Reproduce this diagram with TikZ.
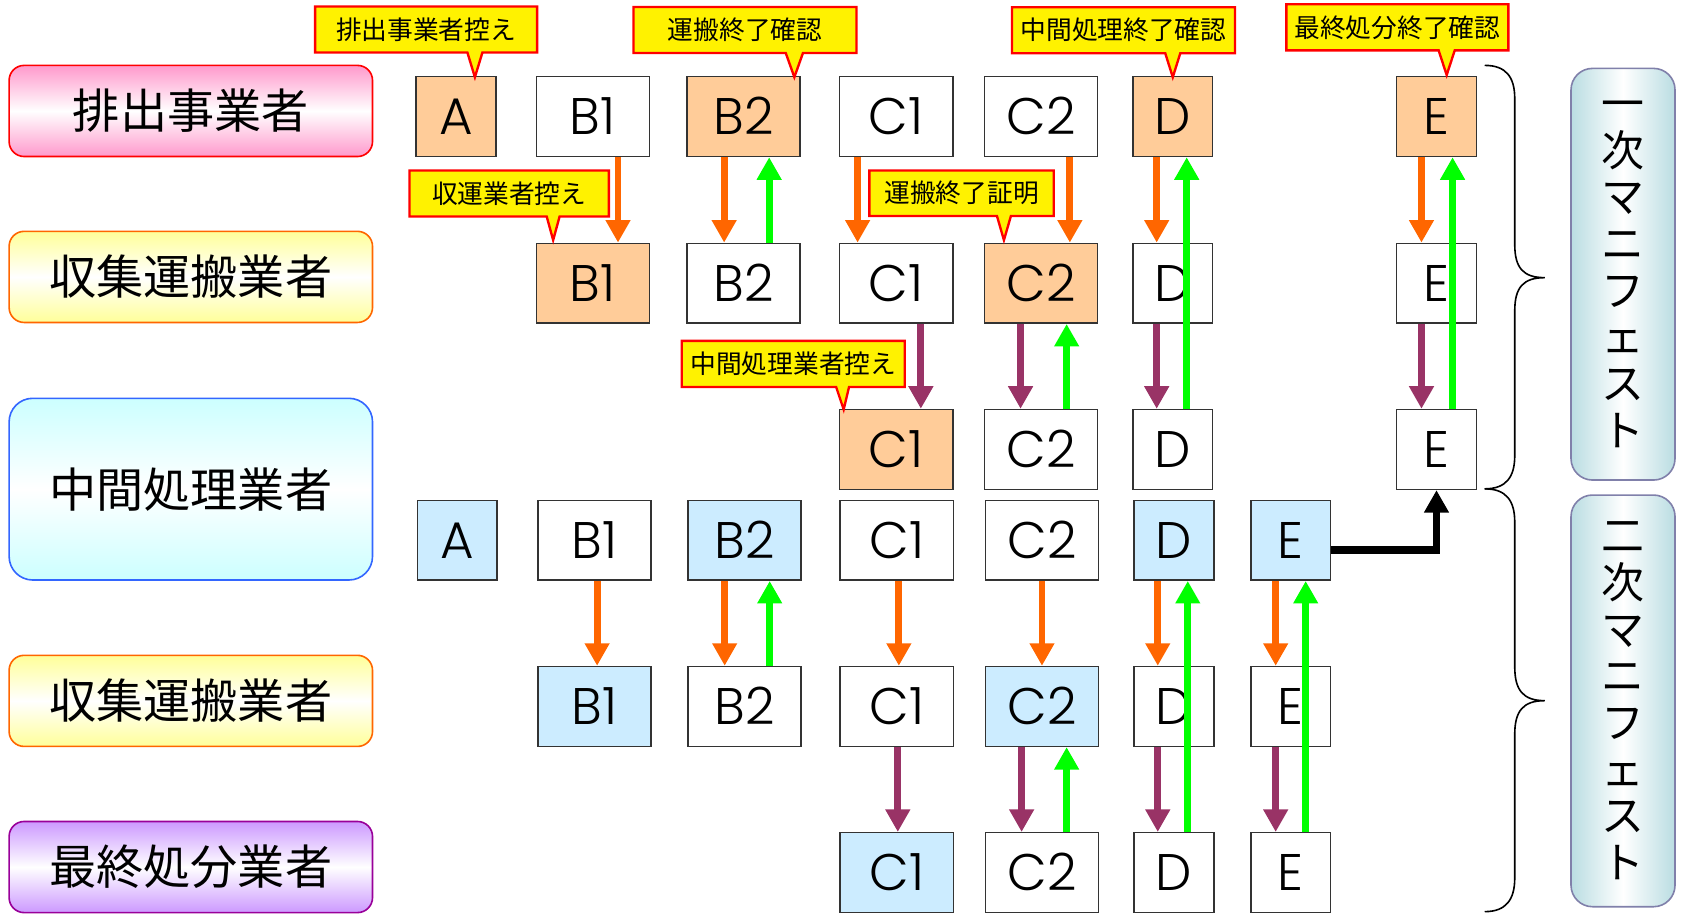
\documentclass[tikz,border=0pt]{standalone}
\usepackage{fontspec}
\newfontfamily\jp{Noto Sans CJK JP}
\newfontfamily\lat{Poppins}[UprightFont={* Light}]
\usetikzlibrary{arrows.meta}
\definecolor{boxor}{HTML}{FFCC99}
\definecolor{boxbl}{HTML}{CCECFF}
\definecolor{arror}{HTML}{FF6600}
\definecolor{arrgr}{HTML}{00FF00}
\definecolor{arrpu}{HTML}{993366}
\definecolor{pinkc}{HTML}{FF99CC}
\definecolor{yelc}{HTML}{FFFF99}
\definecolor{cyanc}{HTML}{CCFFFF}
\definecolor{purc}{HTML}{CC99FF}
\definecolor{tealc}{HTML}{BADDE2}
\definecolor{tealb}{HTML}{8080AA}
\definecolor{cyanb}{HTML}{3366FF}
\definecolor{purb}{HTML}{990099}
\newcommand\arrdn[4]{\draw[#1] ([xshift=#4pt]#2.south) -- ([xshift=#4pt]#3.north);}
\newcommand\arrup[3]{\draw[garr] ([xshift=#3pt]#1.north) -- ([xshift=#3pt]#2.south);}
\begin{document}
\begin{tikzpicture}[x=1pt,y=-1pt,
  lbox/.style={draw=black!80,line width=1.4pt,minimum height=74.5pt,inner sep=0pt,
     text height=33.6pt,text depth=0pt,font=\lat\fontsize{48}{48}\selectfont},
  wide/.style={lbox,minimum width=105.5pt},
  narrow/.style={lbox,minimum width=74.5pt},
  org/.style={fill=boxor},
  blu/.style={fill=boxbl},
  role/.style={rounded corners=14pt,line width=1.5pt,minimum width=339pt,minimum height=85pt,
     inner sep=0pt,text height=37pt,text depth=3.6pt,font=\jp\fontsize{44}{44}\selectfont},
  vlabel/.style={draw=tealb,line width=1.5pt,rounded corners=20pt,left color=tealc,right color=tealc,
     middle color=white,minimum width=97pt,inner sep=0pt,align=center,
     font=\jp\fontsize{40}{43.5}\selectfont},
  callout/.style={draw=red,line width=2.2pt,fill=yellow,line join=miter},
  ctext/.style={inner sep=0pt,font=\jp\fontsize{24}{24}\selectfont},
  oarr/.style={draw=arror,line width=6.5pt,-{Triangle[width=22pt,length=21pt]}},
  parr/.style={draw=arrpu,line width=6.5pt,-{Triangle[width=22pt,length=21pt]}},
  garr/.style={draw=arrgr,line width=6.5pt,-{Triangle[width=22pt,length=21pt]}},
  barr/.style={draw=black,line width=7pt,-{Triangle[width=22pt,length=21pt]}},
  brace/.style={draw=black,line width=1.5pt}
]
\useasboundingbox (0,0) rectangle (1568.1,854.5);
% role boxes
\node[role,draw=red,top color=pinkc,bottom color=pinkc,middle color=white] (r1) at (178,103.5) {排出事業者};
\node[role,draw=arror,top color=yelc,bottom color=yelc,middle color=white] (r2) at (178,258.3) {収集運搬業者};
\node[role,draw=cyanb,top color=cyanc,bottom color=cyanc,middle color=white,minimum height=169.5pt,rounded corners=22pt] (r3) at (178,456.3) {中間処理業者};
\node[role,draw=arror,top color=yelc,bottom color=yelc,middle color=white] (r4) at (178,653.8) {収集運搬業者};
\node[role,draw=purb,top color=purc,bottom color=purc,middle color=white] (r5) at (178,808.8) {最終処分業者};
% upper boxes
\node[narrow,org] (t1A) at (425.5,108.75) {A};
\node[wide] (t1B1) at (553,108.75) {B1};
\node[wide,org] (t1B2) at (693.5,108.75) {B2};
\node[wide] (t1C1) at (836,108.75) {C1};
\node[wide] (t1C2) at (971,108.75) {C2};
\node[narrow,org] (t1D) at (1094,108.75) {D};
\node[narrow,org] (t1E) at (1340,108.75) {E};
\node[wide,org] (t2B1) at (553,264.25) {B1};
\node[wide] (t2B2) at (693.5,264.25) {B2};
\node[wide] (t2C1) at (836,264.25) {C1};
\node[wide,org] (t2C2) at (971,264.25) {C2};
\node[narrow] (t2D) at (1094,264.25) {D};
\node[narrow] (t2E) at (1340,264.25) {E};
\node[wide,org] (t3C1) at (836,419.25) {C1};
\node[wide] (t3C2) at (971,419.25) {C2};
\node[narrow] (t3D) at (1094,419.25) {D};
\node[narrow] (t3E) at (1340,419.25) {E};
% lower boxes
\node[narrow,blu] (b4A) at (426.5,504) {A};
\node[wide] (b4B1) at (554.5,504) {B1};
\node[wide,blu] (b4B2) at (694.5,504) {B2};
\node[wide] (b4C1) at (836.5,504) {C1};
\node[wide] (b4C2) at (972,504) {C2};
\node[narrow,blu] (b4D) at (1095,504) {D};
\node[narrow,blu] (b4E) at (1204,504) {E};
\node[wide,blu] (b5B1) at (554.5,659) {B1};
\node[wide] (b5B2) at (694.5,659) {B2};
\node[wide] (b5C1) at (836.5,659) {C1};
\node[wide,blu] (b5C2) at (972,659) {C2};
\node[narrow] (b5D) at (1095,659) {D};
\node[narrow] (b5E) at (1204,659) {E};
\node[wide,blu] (b6C1) at (836.5,814) {C1};
\node[wide] (b6C2) at (972,814) {C2};
\node[narrow] (b6D) at (1095,814) {D};
\node[narrow] (b6E) at (1204,814) {E};
% upper arrows
\arrdn{oarr}{t1B1}{t2B1}{23.5}
\arrdn{oarr}{t1B2}{t2B2}{-18}
\arrup{t2B2}{t1B2}{24}
\arrdn{oarr}{t1C1}{t2C1}{-36}
\arrdn{oarr}{t1C2}{t2C2}{27}
\arrdn{oarr}{t1D}{t2D}{-15}
\arrdn{oarr}{t1E}{t2E}{-14}
\arrdn{parr}{t2C1}{t3C1}{23}
\arrdn{parr}{t2C2}{t3C2}{-19}
\arrup{t3C2}{t2C2}{24}
\arrdn{parr}{t2D}{t3D}{-15}
\arrdn{parr}{t2E}{t3E}{-14}
\arrup{t3D}{t1D}{13}
\arrup{t3E}{t1E}{15}
% lower arrows
\arrdn{oarr}{b4B1}{b5B1}{2.5}
\arrdn{oarr}{b4B2}{b5B2}{-18.5}
\arrup{b5B2}{b4B2}{23.5}
\arrdn{oarr}{b4C1}{b5C1}{2}
\arrdn{oarr}{b4C2}{b5C2}{0}
\arrdn{oarr}{b4D}{b5D}{-15}
\arrdn{oarr}{b4E}{b5E}{-14}
\arrdn{parr}{b5C1}{b6C1}{1}
\arrdn{parr}{b5C2}{b6C2}{-19}
\arrup{b6C2}{b5C2}{23}
\arrdn{parr}{b5D}{b6D}{-15}
\arrdn{parr}{b5E}{b6E}{-14}
\arrup{b6D}{b4D}{13}
\arrup{b6E}{b4E}{14}
% black connector
\draw[barr] ([yshift=-9pt]b4E.east) -| (t3E.south);
% callouts
\draw[callout] (294,6) -- (501,6) -- (501,49) -- (450,49) -- (443,72) -- (436,49) -- (294,49) -- cycle;
\node[ctext] (c1) at (397.5,27.5) {排出事業者控え};
\draw[callout] (591,6.5) -- (799,6.5) -- (799,49.5) -- (749,49.5) -- (741,72) -- (733,49.5) -- (591,49.5) -- cycle;
\node[ctext] (c2) at (695,28) {運搬終了確認};
\draw[callout] (944,6.8) -- (1152,6.8) -- (1152,49.7) -- (1101,49.7) -- (1094,72) -- (1087,49.7) -- (944,49.7) -- cycle;
\node[ctext] (c3) at (1048,28.2) {中間処理終了確認};
\draw[callout] (1200,4) -- (1407,4) -- (1407,47) -- (1357,47) -- (1349.5,70) -- (1342,47) -- (1200,47) -- cycle;
\node[ctext] (c4) at (1303.5,25.5) {最終処分終了確認};
\draw[callout] (382,159) -- (568,159) -- (568,202) -- (522,202) -- (516,224) -- (510,202) -- (382,202) -- cycle;
\node[ctext] (c5) at (475,180.5) {収運業者控え};
\draw[callout] (811,159) -- (983,159) -- (983,201.5) -- (943,201.5) -- (936.5,224) -- (930,201.5) -- (811,201.5) -- cycle;
\node[ctext] (c6) at (897,180.3) {運搬終了証明};
\draw[callout] (636,318) -- (844,318) -- (844,361) -- (792,361) -- (787,382) -- (780,361) -- (636,361) -- cycle;
\node[ctext] (c7) at (740,339.5) {中間処理業者控え};
% braces
\draw[brace] (1385,61) .. controls (1405,61) and (1413,72) .. (1413,92) -- (1413,228)
  .. controls (1413,250) and (1421,259) .. (1441,259)
  .. controls (1421,259) and (1413,268) .. (1413,290) -- (1413,425)
  .. controls (1413,445) and (1405,456) .. (1385,456);
\draw[brace] (1385,456) .. controls (1405,456) and (1413,467) .. (1413,487) -- (1413,622)
  .. controls (1413,644) and (1421,653.6) .. (1441,653.6)
  .. controls (1421,653.6) and (1413,663) .. (1413,685) -- (1413,819)
  .. controls (1413,839) and (1405,850.4) .. (1385,850.4);
% vertical labels
\node[vlabel,minimum height=384pt] (v1) at (1514,255.8) {一\\次\\マ\\ニ\\フ\\ェ\\ス\\ト};
\node[vlabel,minimum height=384pt] (v2) at (1514,653.8) {二\\次\\マ\\ニ\\フ\\ェ\\ス\\ト};
\end{tikzpicture}
\end{document}
